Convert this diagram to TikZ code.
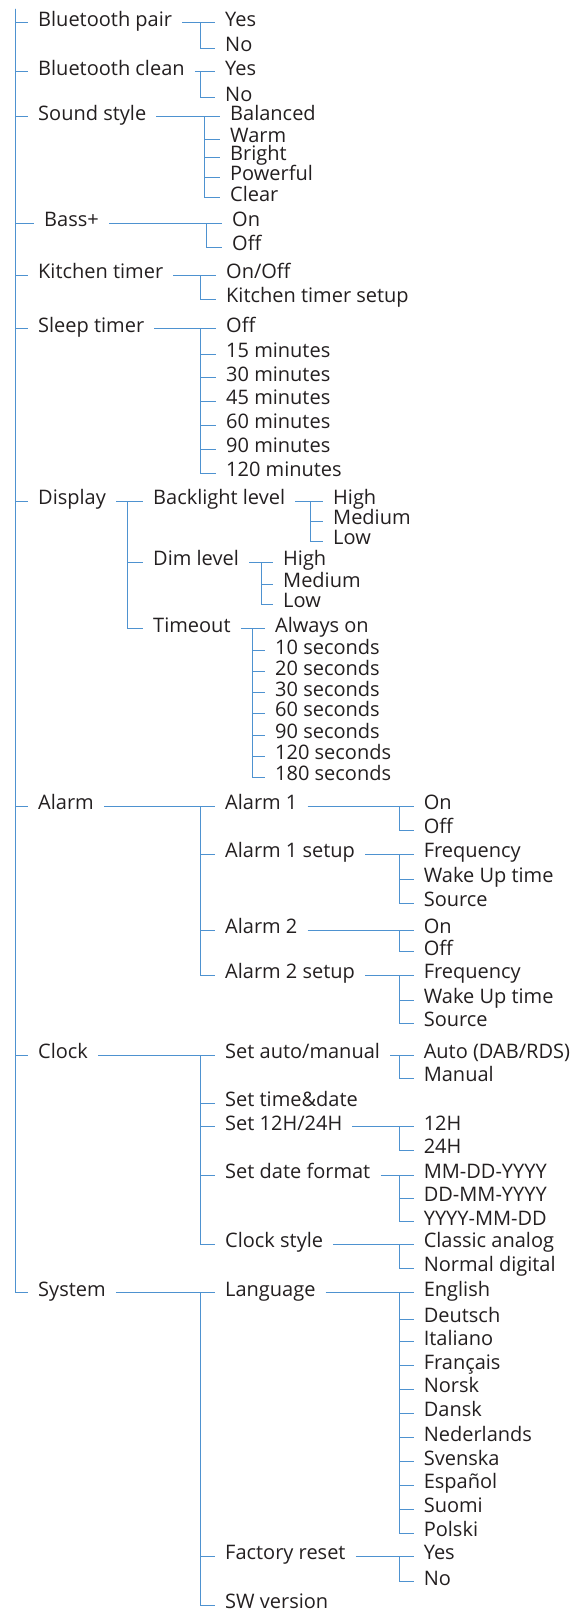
\documentclass[tikz,border=0pt]{standalone}
\usepackage{fontspec}
\setmainfont{Open Sans}
\usepackage{xcolor}
\usepackage{tikz}
\definecolor{menublue}{RGB}{78,146,208}
\definecolor{menutext}{RGB}{35,31,32}

\begin{document}
\begin{tikzpicture}[
  x=1pt, y=-1pt,
  entry/.style={anchor=west, inner xsep=10pt, inner ysep=0pt, text height=0.72em, text depth=0pt, font=\fontsize{20}{23}\selectfont, text=menutext},
  menuline/.style={draw=menublue, line width=1pt},
]
  \useasboundingbox (0,0) rectangle (587,1611);

  % Main menu
  \coordinate (top) at (15,9);
  \node[entry] (btpair) at (28,22.7) {Bluetooth pair};
  \node[entry] (btclean) at (28,72) {Bluetooth clean};
  \node[entry] (sound) at (28,116.7) {Sound style};
  \node[entry] (bass) at (34,223.3) {Bass+};
  \node[entry] (kitchen) at (28,275.3) {Kitchen timer};
  \node[entry] (sleep) at (28,328.7) {Sleep timer};
  \node[entry] (display) at (28,501) {Display};
  \node[entry] (alarm) at (28,806) {Alarm};
  \node[entry] (clock) at (28,1055) {Clock};
  \node[entry] (system) at (28,1292.7) {System};

  \draw[menuline] (top) |- (btpair.west);
  \draw[menuline] (top) |- (btclean.west);
  \draw[menuline] (top) |- (sound.west);
  \draw[menuline] (top) |- (bass.west);
  \draw[menuline] (top) |- (kitchen.west);
  \draw[menuline] (top) |- (sleep.west);
  \draw[menuline] (top) |- (display.west);
  \draw[menuline] (top) |- (alarm.west);
  \draw[menuline] (top) |- (clock.west);
  \draw[menuline] (top) |- (system.west);

  % Bluetooth pair
  \coordinate (btpairJ) at (200,22.7);
  \node[entry] (btpairYes) at (215,22.7) {Yes};
  \node[entry] (btpairNo) at (215,48.3) {No};
  \draw[menuline] (btpair.east) -- (btpairYes.west);
  \draw[menuline] (btpairJ) |- (btpairNo.west);

  % Bluetooth clean
  \coordinate (btcleanJ) at (200,72);
  \node[entry] (btcleanYes) at (215,72) {Yes};
  \node[entry] (btcleanNo) at (215,97.7) {No};
  \draw[menuline] (btclean.east) -- (btcleanYes.west);
  \draw[menuline] (btcleanJ) |- (btcleanNo.west);

  % Sound style
  \coordinate (soundJ) at (204,116.7);
  \node[entry] (balanced) at (220,116.7) {Balanced};
  \node[entry] (warm) at (220,139.3) {Warm};
  \node[entry] (bright) at (220,157.3) {Bright};
  \node[entry] (powerful) at (220,177.3) {Powerful};
  \node[entry] (clear) at (220,197.7) {Clear};
  \draw[menuline] (sound.east) -- (balanced.west);
  \draw[menuline] (soundJ) |- (warm.west);
  \draw[menuline] (soundJ) |- (bright.west);
  \draw[menuline] (soundJ) |- (powerful.west);
  \draw[menuline] (soundJ) |- (clear.west);

  % Bass+
  \coordinate (bassJ) at (206.7,223.3);
  \node[entry] (bassOn) at (222,223.3) {On};
  \node[entry] (bassOff) at (222,247.3) {Off};
  \draw[menuline] (bass.east) -- (bassOn.west);
  \draw[menuline] (bassJ) |- (bassOff.west);

  % Kitchen timer
  \coordinate (kitchenJ) at (200,275.3);
  \node[entry] (kitchenOnOff) at (216,275.3) {On/Off};
  \node[entry] (kitchenSetup) at (216,299) {Kitchen timer setup};
  \draw[menuline] (kitchen.east) -- (kitchenOnOff.west);
  \draw[menuline] (kitchenJ) |- (kitchenSetup.west);

  % Sleep timer
  \coordinate (sleepJ) at (200,328.7);
  \node[entry] (sleepOff) at (216,328.7) {Off};
  \node[entry] (sleep15) at (216,354) {15 minutes};
  \node[entry] (sleep30) at (216,377.7) {30 minutes};
  \node[entry] (sleep45) at (216,401) {45 minutes};
  \node[entry] (sleep60) at (216,425) {60 minutes};
  \node[entry] (sleep90) at (216,449.3) {90 minutes};
  \node[entry] (sleep120) at (216,473.3) {120 minutes};
  \draw[menuline] (sleep.east) -- (sleepOff.west);
  \draw[menuline] (sleepJ) |- (sleep15.west);
  \draw[menuline] (sleepJ) |- (sleep30.west);
  \draw[menuline] (sleepJ) |- (sleep45.west);
  \draw[menuline] (sleepJ) |- (sleep60.west);
  \draw[menuline] (sleepJ) |- (sleep90.west);
  \draw[menuline] (sleepJ) |- (sleep120.west);

  % Display
  \coordinate (displayJ) at (127.7,501);
  \node[entry] (backlight) at (143,501) {Backlight level};
  \node[entry] (dim) at (143,562.3) {Dim level};
  \node[entry] (timeout) at (143,628.5) {Timeout};
  \draw[menuline] (display.east) -- (backlight.west);
  \draw[menuline] (displayJ) |- (dim.west);
  \draw[menuline] (displayJ) |- (timeout.west);

  \coordinate (backlightJ) at (310,501);
  \node[entry] (backlightHigh) at (323,501) {High};
  \node[entry] (backlightMedium) at (323,521) {Medium};
  \node[entry] (backlightLow) at (323,541) {Low};
  \draw[menuline] (backlight.east) -- (backlightHigh.west);
  \draw[menuline] (backlightJ) |- (backlightMedium.west);
  \draw[menuline] (backlightJ) |- (backlightLow.west);

  \coordinate (dimJ) at (261,562.3);
  \node[entry] (dimHigh) at (273,562.3) {High};
  \node[entry] (dimMedium) at (273,584) {Medium};
  \node[entry] (dimLow) at (273,604) {Low};
  \draw[menuline] (dim.east) -- (dimHigh.west);
  \draw[menuline] (dimJ) |- (dimMedium.west);
  \draw[menuline] (dimJ) |- (dimLow.west);

  \coordinate (timeoutJ) at (252,628.5);
  \node[entry] (always) at (265,628.5) {Always on};
  \node[entry] (sec10) at (265,650.7) {10 seconds};
  \node[entry] (sec20) at (265,671.7) {20 seconds};
  \node[entry] (sec30) at (265,692.7) {30 seconds};
  \node[entry] (sec60) at (265,713.3) {60 seconds};
  \node[entry] (sec90) at (265,735) {90 seconds};
  \node[entry] (sec120) at (265,756) {120 seconds};
  \node[entry] (sec180) at (265,777.3) {180 seconds};
  \draw[menuline] (timeout.east) -- (always.west);
  \draw[menuline] (timeoutJ) |- (sec10.west);
  \draw[menuline] (timeoutJ) |- (sec20.west);
  \draw[menuline] (timeoutJ) |- (sec30.west);
  \draw[menuline] (timeoutJ) |- (sec60.west);
  \draw[menuline] (timeoutJ) |- (sec90.west);
  \draw[menuline] (timeoutJ) |- (sec120.west);
  \draw[menuline] (timeoutJ) |- (sec180.west);

  % Alarm
  \coordinate (alarmJ) at (200,806);
  \node[entry] (alarmA) at (215,806) {Alarm 1};
  \node[entry] (alarmAset) at (215,854.3) {Alarm 1 setup};
  \node[entry] (alarmB) at (215,930) {Alarm 2};
  \node[entry] (alarmBset) at (215,975) {Alarm 2 setup};
  \draw[menuline] (alarm.east) -- (alarmA.west);
  \draw[menuline] (alarmJ) |- (alarmAset.west);
  \draw[menuline] (alarmJ) |- (alarmB.west);
  \draw[menuline] (alarmJ) |- (alarmBset.west);

  \coordinate (alarmAJ) at (399.3,806);
  \node[entry] (alarmAOn) at (413.6,806) {On};
  \node[entry] (alarmAOff) at (413.6,830) {Off};
  \draw[menuline] (alarmA.east) -- (alarmAOn.west);
  \draw[menuline] (alarmAJ) |- (alarmAOff.west);

  \coordinate (alarmAsetJ) at (399.3,854.3);
  \node[entry] (alarmAfreq) at (413.6,854.3) {Frequency};
  \node[entry] (alarmAwake) at (413.6,879) {Wake Up time};
  \node[entry] (alarmAsrc) at (413.6,903.3) {Source};
  \draw[menuline] (alarmAset.east) -- (alarmAfreq.west);
  \draw[menuline] (alarmAsetJ) |- (alarmAwake.west);
  \draw[menuline] (alarmAsetJ) |- (alarmAsrc.west);

  \coordinate (alarmBJ) at (399.3,930);
  \node[entry] (alarmBOn) at (413.6,930) {On};
  \node[entry] (alarmBOff) at (413.6,951.7) {Off};
  \draw[menuline] (alarmB.east) -- (alarmBOn.west);
  \draw[menuline] (alarmBJ) |- (alarmBOff.west);

  \coordinate (alarmBsetJ) at (399.3,975);
  \node[entry] (alarmBfreq) at (413.6,975) {Frequency};
  \node[entry] (alarmBwake) at (413.6,1000) {Wake Up time};
  \node[entry] (alarmBsrc) at (413.6,1023) {Source};
  \draw[menuline] (alarmBset.east) -- (alarmBfreq.west);
  \draw[menuline] (alarmBsetJ) |- (alarmBwake.west);
  \draw[menuline] (alarmBsetJ) |- (alarmBsrc.west);

  % Clock
  \coordinate (clockJ) at (200,1055);
  \node[entry] (setauto) at (215,1055) {Set auto/manual};
  \node[entry] (settime) at (215,1103.3) {Set time\&date};
  \node[entry] (sethour) at (215,1126.7) {Set 12H/24H};
  \node[entry] (setdate) at (215,1175) {Set date format};
  \node[entry] (clockstyle) at (215,1244) {Clock style};
  \draw[menuline] (clock.east) -- (setauto.west);
  \draw[menuline] (clockJ) |- (settime.west);
  \draw[menuline] (clockJ) |- (sethour.west);
  \draw[menuline] (clockJ) |- (setdate.west);
  \draw[menuline] (clockJ) |- (clockstyle.west);

  \coordinate (setautoJ) at (399.3,1055);
  \node[entry] (autoDab) at (413.6,1055) {Auto (DAB/RDS)};
  \node[entry] (manual) at (413.6,1078.3) {Manual};
  \draw[menuline] (setauto.east) -- (autoDab.west);
  \draw[menuline] (setautoJ) |- (manual.west);

  \coordinate (sethourJ) at (399.3,1126.7);
  \node[entry] (h12) at (413.6,1126.7) {12H};
  \node[entry] (h24) at (413.6,1150) {24H};
  \draw[menuline] (sethour.east) -- (h12.west);
  \draw[menuline] (sethourJ) |- (h24.west);

  \coordinate (setdateJ) at (399.3,1175);
  \node[entry] (mdy) at (413.6,1175) {MM-DD-YYYY};
  \node[entry] (dmy) at (413.6,1198.3) {DD-MM-YYYY};
  \node[entry] (ymd) at (413.6,1221.7) {YYYY-MM-DD};
  \draw[menuline] (setdate.east) -- (mdy.west);
  \draw[menuline] (setdateJ) |- (dmy.west);
  \draw[menuline] (setdateJ) |- (ymd.west);

  \coordinate (clockstyleJ) at (399.3,1244);
  \node[entry] (analog) at (413.6,1244) {Classic analog};
  \node[entry] (digital) at (413.6,1268.3) {Normal digital};
  \draw[menuline] (clockstyle.east) -- (analog.west);
  \draw[menuline] (clockstyleJ) |- (digital.west);

  % System
  \coordinate (systemJ) at (200,1292.7);
  \node[entry] (language) at (215,1292.7) {Language};
  \node[entry] (factory) at (215,1556) {Factory reset};
  \node[entry] (swversion) at (215,1605) {SW version};
  \draw[menuline] (system.east) -- (language.west);
  \draw[menuline] (systemJ) |- (factory.west);
  \draw[menuline] (systemJ) |- (swversion.west);

  \coordinate (languageJ) at (399.3,1292.7);
  \node[entry] (english) at (413.6,1292.7) {English};
  \node[entry] (deutsch) at (413.6,1319.3) {Deutsch};
  \node[entry] (italiano) at (413.6,1341.7) {Italiano};
  \node[entry] (francais) at (413.6,1365.7) {Français};
  \node[entry] (norsk) at (413.6,1389.3) {Norsk};
  \node[entry] (dansk) at (413.6,1413.3) {Dansk};
  \node[entry] (nederlands) at (413.6,1437.7) {Nederlands};
  \node[entry] (svenska) at (413.6,1461.7) {Svenska};
  \node[entry] (espanol) at (413.6,1485) {Español};
  \node[entry] (suomi) at (413.6,1509.3) {Suomi};
  \node[entry] (polski) at (413.6,1533.3) {Polski};
  \draw[menuline] (language.east) -- (english.west);
  \draw[menuline] (languageJ) |- (deutsch.west);
  \draw[menuline] (languageJ) |- (italiano.west);
  \draw[menuline] (languageJ) |- (francais.west);
  \draw[menuline] (languageJ) |- (norsk.west);
  \draw[menuline] (languageJ) |- (dansk.west);
  \draw[menuline] (languageJ) |- (nederlands.west);
  \draw[menuline] (languageJ) |- (svenska.west);
  \draw[menuline] (languageJ) |- (espanol.west);
  \draw[menuline] (languageJ) |- (suomi.west);
  \draw[menuline] (languageJ) |- (polski.west);

  \coordinate (factoryJ) at (399.3,1556);
  \node[entry] (resetYes) at (413.6,1556) {Yes};
  \node[entry] (resetNo) at (413.6,1581.7) {No};
  \draw[menuline] (factory.east) -- (resetYes.west);
  \draw[menuline] (factoryJ) |- (resetNo.west);

\end{tikzpicture}
\end{document}
